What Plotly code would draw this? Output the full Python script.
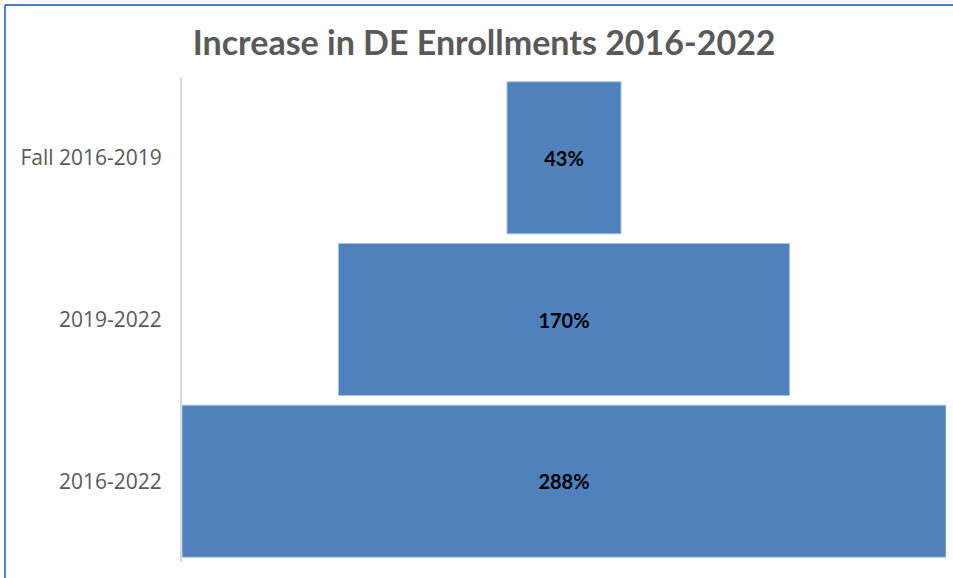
import plotly.graph_objects as go

categories = ["Fall 2016-2019", "2019-2022", "2016-2022"]
values = [43, 170, 288]
labels = ["43%", "170%", "288%"]
title_text = "Increase in DE Enrollments 2016-2022"

fig = go.Figure(go.Funnel(
    y=categories,
    x=values,
    text=labels,
    textinfo="text",
    textposition="inside",
    insidetextanchor="middle",
    textfont=dict(family="Lato", size=20, color="#000000", weight="bold"),
    marker=dict(color="#4F81BD", line=dict(color="#A9C1E0", width=1)),
    connector=dict(visible=False),
    hoverinfo="x+y",
))

fig.update_layout(
    width=953, height=578,
    margin=dict(l=182, r=7, t=77, b=16),
    paper_bgcolor="white", plot_bgcolor="white",
    title=dict(text=f"<b>{title_text}</b>", x=0.508, xanchor="center", y=0.925, yanchor="middle",
               font=dict(family="Lato", size=34, color="#595959")),
    showlegend=False,
    funnelgap=0.06,
    xaxis=dict(range=[-144, 144], visible=False, showgrid=False, zeroline=False),
    yaxis=dict(showline=True, linecolor="#D9D9D9", linewidth=2, ticks="", ticklen=0,
               ticklabelstandoff=14,
               tickfont=dict(family="Open Sans", size=21, color="#595959"),
               showgrid=False, zeroline=False),
)

# outer border of the document frame
fig.add_shape(type="line", xref="paper", yref="paper",
              x0=-177/764, x1=1.01, y0=1 + 72/485, y1=1 + 72/485,
              line=dict(color="#4A7EC9", width=2))
fig.add_shape(type="line", xref="paper", yref="paper",
              x0=-177/764, x1=-177/764, y0=1 + 72/485, y1=-0.04,
              line=dict(color="#4A7EC9", width=2))

fig.write_html("out.html")
